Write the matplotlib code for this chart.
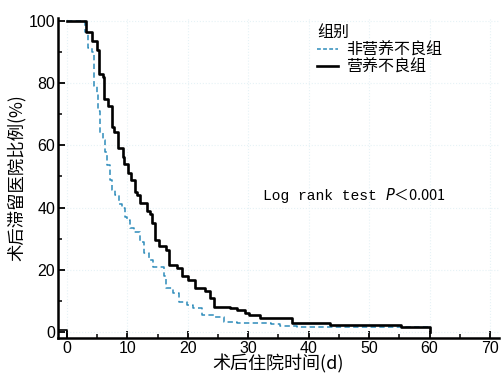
import matplotlib
matplotlib.use("Agg")
import matplotlib.pyplot as plt
from matplotlib.lines import Line2D

plt.rcParams['font.family'] = ['Noto Sans CJK SC', 'DejaVu Sans']

# Non-malnourished group (dashed blue): step times (days) and survival (%)
t_normal = [0, 3.0, 3.5, 4.1, 4.4, 4.9, 5.2, 5.4, 6.0, 6.3, 6.6, 7.1, 7.4, 8.0, 8.6, 9.1,
            9.6, 9.9, 10.4, 11.0, 12.1, 12.7, 13.5, 14.3, 16.0, 16.3, 17.6, 18.5, 19.9,
            20.9, 22.3, 24.3, 25.9, 28.1, 33.7, 35.3, 38.1, 60.0]
s_normal = [100, 96.6, 91.3, 90.0, 79.0, 76.7, 71.0, 64.0, 61.7, 58.0, 53.7, 49.0, 45.5, 44.0,
            41.0, 40.0, 37.0, 36.0, 33.4, 32.2, 29.0, 25.3, 23.2, 21.0, 17.8, 14.0, 12.4,
            9.7, 8.7, 7.6, 5.5, 4.9, 3.3, 2.8, 2.6, 1.9, 1.4, 1.4]

# Malnourished group (solid black)
t_mal = [0, 3.2, 4.1, 4.9, 5.3, 6.0, 6.1, 6.8, 7.4, 7.8, 8.5, 9.2, 9.5, 10.1, 10.6, 11.3,
         11.6, 12.1, 13.2, 13.8, 14.0, 14.6, 15.3, 16.3, 16.9, 18.2, 19.0, 20.1, 21.2, 22.9,
         23.7, 24.3, 27.0, 28.1, 29.5, 30.1, 32.0, 37.3, 43.6, 55.2, 60.0, 60.0]
s_mal = [100, 96.6, 93.6, 90.7, 83.0, 82.0, 75.0, 72.7, 66.0, 64.4, 59.0, 56.4, 54.0, 51.0,
         49.0, 45.0, 44.0, 41.5, 39.0, 38.0, 35.0, 29.5, 27.5, 26.4, 21.5, 20.6, 17.8, 16.7,
         14.1, 13.0, 11.0, 8.1, 7.6, 7.0, 6.2, 5.5, 4.4, 2.8, 2.25, 1.5, 1.5, 0]

corner_x = [-1.5, 0, 0]
corner_y = [0.7, 0.7, -2]

legend_title = '组别'
label_normal = '非营养不良组'
label_mal = '营养不良组'
x_ticks = [0, 10, 20, 30, 40, 50, 60, 70]
y_ticks = [0, 20, 40, 60, 80, 100]

fig = plt.figure(figsize=(5.02, 3.77), dpi=100)
ax = fig.add_axes([58/502, 1-338/377, 441/502, 320/377])

blue = '#2e8cba'
ax.step(t_normal, s_normal, where='post', color=blue, lw=1.1, ls=(0, (3.5, 2.2)),
        label=label_normal, zorder=3)
ax.step(t_mal, s_mal, where='post', color='black', lw=1.9, label=label_mal, zorder=4)
ax.plot(corner_x, corner_y, color='black', lw=1.2, zorder=2)

ax.set_xlim(-1.5, 71.5)
ax.set_ylim(-2, 101)
ax.set_xticks(x_ticks)
ax.set_yticks(y_ticks)
ax.set_xticks(range(5, 70, 10), minor=True)
ax.set_yticks(range(10, 100, 20), minor=True)
for s in ['top', 'right']:
    ax.spines[s].set_visible(False)
for s in ['left', 'bottom']:
    ax.spines[s].set_linewidth(1.8)
ax.tick_params(which='major', direction='in', length=5, width=1.3, pad=2)
ax.tick_params(which='minor', direction='in', length=3, width=1.1)
for lab in ax.get_xticklabels() + ax.get_yticklabels():
    lab.set_family(['Liberation Sans', 'DejaVu Sans'])
    lab.set_fontsize(11.5)
ax.grid(True, which='major', color='#e6f2f6', ls=':', lw=0.8, zorder=0)

ax.set_xlabel('术后住院时间(d)', fontsize=13, labelpad=-1)
ax.set_ylabel('术后滞留医院比例(%)', fontsize=12.5, labelpad=2)

handles = [Line2D([], [], color=blue, lw=1.1, ls=(0, (2.5, 1.5))),
           Line2D([], [], color='black', lw=1.9)]
leg = ax.legend(handles, [label_normal, label_mal], title=legend_title, frameon=False,
                loc='upper left', bbox_to_anchor=(0.562, 1.015), fontsize=11.5,
                title_fontsize=11.5, handlelength=1.3, handletextpad=0.5,
                labelspacing=0.0, borderpad=0.2)
leg._legend_box.align = 'left'

ax.text(0.465, 0.445, 'Log rank test ', transform=ax.transAxes, fontsize=10.5,
        family=['Liberation Mono', 'DejaVu Sans Mono'], va='center', ha='left')
ax.text(0.742, 0.445, '$\\mathit{P}$＜0.001', transform=ax.transAxes, fontsize=10.5,
        family=['Noto Sans CJK SC', 'DejaVu Sans'], va='center', ha='left')

fig.savefig('out.png', dpi=100)
